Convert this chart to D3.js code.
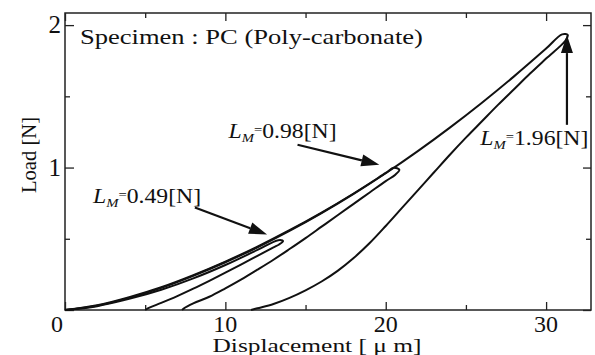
<!DOCTYPE html>
<html>
<head>
<meta charset="utf-8">
<script src="https://cdn.jsdelivr.net/npm/d3@7"></script>
<style>
  body { margin: 0; background: #fff; }
  text { font-family: "Liberation Serif", "Times New Roman", Tinos, Times, serif; fill: #111; }
</style>
</head>
<body>
<div id="chart"></div>
<script>
// tick values
const xMajor = [0, 10, 20, 30];
const xMinor = [5, 15, 25];
const yMajor = [0, 1, 2];
const yMinor = [0.5, 1.5];

// loading / unloading branches, [displacement um, load N]
const load049 = [[0,0],[2,0.027],[4,0.078],[6,0.142],[8,0.222],[10,0.316],[12,0.422],[13.3,0.49]];
const unload049 = [[13.6,0.484],[13.35,0.46],[13,0.44],[12,0.38],[11,0.32],[10,0.262],[9,0.205],[8,0.15],[7,0.098],[6,0.05],[5.3,0.018],[5.0,0]];

const load098 = [[0,0],[2,0.033],[4,0.09],[6,0.16],[8,0.245],[10,0.34],[12,0.445],[14,0.56],[16,0.684],[18,0.818],[20,0.962],[20.5,0.998]];
const unload098 = [[20.85,0.985],[20.6,0.95],[20,0.905],[19,0.825],[18,0.745],[17,0.665],[16,0.585],[15,0.505],[14,0.428],[13,0.353],[12,0.283],[11,0.215],[10,0.152],[9,0.093],[8,0.046],[7.4,0.01],[7.3,0]];

const load196 = [[0,0],[2,0.03],[4,0.085],[6,0.155],[8,0.24],[10,0.335],[12,0.44],[14,0.555],[16,0.68],[18,0.815],[20,0.96],[22,1.115],[24,1.28],[26,1.455],[28,1.64],[30,1.835],[31.0,1.935]];
const unload196 = [[31.35,1.93],[31.2,1.89],[30,1.765],[29,1.66],[28,1.55],[27,1.44],[26,1.325],[25,1.21],[24,1.09],[23,0.965],[22,0.84],[21,0.715],[20,0.59],[19,0.47],[18,0.365],[17,0.275],[16,0.2],[15,0.138],[14,0.085],[13,0.042],[12,0.012],[11.6,0]];

// annotation labels: max load, label anchor, arrow tail, arrow tip (data units)
const labelLoads = ["0.49", "0.98", "1.96"];
const labelPos = [[1.75, 0.75], [10.2, 1.21], [25.9, 1.16]];
const arrowTail = [[8.1, 0.72], [14.5, 1.16], [31.3, 1.30]];
const arrowTip = [[12.6, 0.53], [19.6, 1.02], [31.3, 1.93]];

var W = 595, H = 355;
var margin = { top: 13, right: 4, bottom: 45, left: 65 },
    width = W - margin.left - margin.right,
    height = H - margin.top - margin.bottom;

var svg = d3.select("#chart")
    .append("svg")
    .attr("width", W)
    .attr("height", H);

var g = svg.append("g")
    .attr("transform", "translate(" + margin.left + "," + margin.top + ")");

var x = d3.scaleLinear().domain([0, 32.8]).range([0, width]);
var y = d3.scaleLinear().domain([0, 2.085]).range([height, 0]);

//frame
g.append("rect")
    .attr("width", width)
    .attr("height", height)
    .attr("fill", "none")
    .attr("stroke", "#222")
    .attr("stroke-width", 1.5);

//ticks on all four sides, pointing in
function tickAxis(axis, size, vals, tr) {
    var a = g.append("g")
        .attr("transform", tr)
        .call(axis.tickValues(vals).tickSize(size).tickFormat(""));
    a.select(".domain").remove();
    a.selectAll("line").attr("stroke", "#222").attr("stroke-width", 1.3);
}
tickAxis(d3.axisBottom(x), -8, xMajor, "translate(0," + height + ")");
tickAxis(d3.axisBottom(x), -5, xMinor, "translate(0," + height + ")");
tickAxis(d3.axisTop(x), -8, xMajor, "translate(0,0)");
tickAxis(d3.axisTop(x), -5, xMinor, "translate(0,0)");
tickAxis(d3.axisLeft(y), -9, yMajor, "translate(0,0)");
tickAxis(d3.axisLeft(y), -5, yMinor, "translate(0,0)");
tickAxis(d3.axisRight(y), -8, yMajor, "translate(" + width + ",0)");
tickAxis(d3.axisRight(y), -5, yMinor, "translate(" + width + ",0)");

//tick labels
g.selectAll(".xl")
    .data(xMajor)
    .enter().append("text")
    .attr("x", d => x(d) - (d === 0 ? 8 : 0))
    .attr("y", height + 22)
    .attr("text-anchor", "middle")
    .style("font-size", "24px")
    .text(d => d);

g.selectAll(".yl")
    .data(yMajor.filter(d => d > 0))
    .enter().append("text")
    .attr("x", -4)
    .attr("y", d => y(d) + 8)
    .attr("text-anchor", "end")
    .style("font-size", "25px")
    .text(d => d);

//axis titles
svg.append("text")
    .attr("x", 317)
    .attr("y", 352)
    .attr("text-anchor", "middle")
    .attr("textLength", 209)
    .attr("lengthAdjust", "spacingAndGlyphs")
    .style("font-size", "19px")
    .text("Displacement [ \u03bc m]");

svg.append("text")
    .attr("transform", "translate(36,155) rotate(-90)")
    .attr("text-anchor", "middle")
    .attr("textLength", 76)
    .attr("lengthAdjust", "spacingAndGlyphs")
    .style("font-size", "22px")
    .text("Load [N]");

//specimen title
g.append("text")
    .attr("x", x(0.93))
    .attr("y", y(1.87))
    .attr("textLength", 343)
    .attr("lengthAdjust", "spacingAndGlyphs")
    .style("font-size", "22px")
    .text("Specimen : PC (Poly-carbonate)");

//curves
var line = d3.line()
    .x(d => x(d[0]))
    .y(d => y(d[1]))
    .curve(d3.curveCatmullRom.alpha(0.5));

var loops = [load049.concat(unload049), load098.concat(unload098), load196.concat(unload196)];
g.selectAll(".loop")
    .data(loops)
    .enter().append("path")
    .attr("d", line)
    .attr("fill", "none")
    .attr("stroke", "#111")
    .attr("stroke-width", 2);

//annotations
labelLoads.forEach(function (v, i) {
    var t = g.append("text")
        .attr("x", x(labelPos[i][0]))
        .attr("y", y(labelPos[i][1]))
        .attr("textLength", 108)
        .attr("lengthAdjust", "spacingAndGlyphs")
        .style("font-size", "21px");
    t.append("tspan").style("font-style", "italic").text("L");
    t.append("tspan").style("font-style", "italic").style("font-size", "13px").attr("dy", 4).text("M");
    t.append("tspan").style("font-size", "13px").attr("dy", -8).text("=");
    t.append("tspan").attr("dy", 4).text(v + "[N]");

    var x1 = x(arrowTail[i][0]), y1 = y(arrowTail[i][1]);
    var x2 = x(arrowTip[i][0]), y2 = y(arrowTip[i][1]);
    var ang = Math.atan2(y2 - y1, x2 - x1);
    var hl = 18, hw = 6;
    var bx = x2 - hl * Math.cos(ang), by = y2 - hl * Math.sin(ang);
    g.append("line")
        .attr("x1", x1).attr("y1", y1)
        .attr("x2", bx).attr("y2", by)
        .attr("stroke", "#111")
        .attr("stroke-width", 2.2);
    g.append("path")
        .attr("d", "M" + x2 + "," + y2 +
            "L" + (bx + hw * Math.sin(ang)) + "," + (by - hw * Math.cos(ang)) +
            "L" + (bx - hw * Math.sin(ang)) + "," + (by + hw * Math.cos(ang)) + "Z")
        .attr("fill", "#111");
});
</script>
</body>
</html>
